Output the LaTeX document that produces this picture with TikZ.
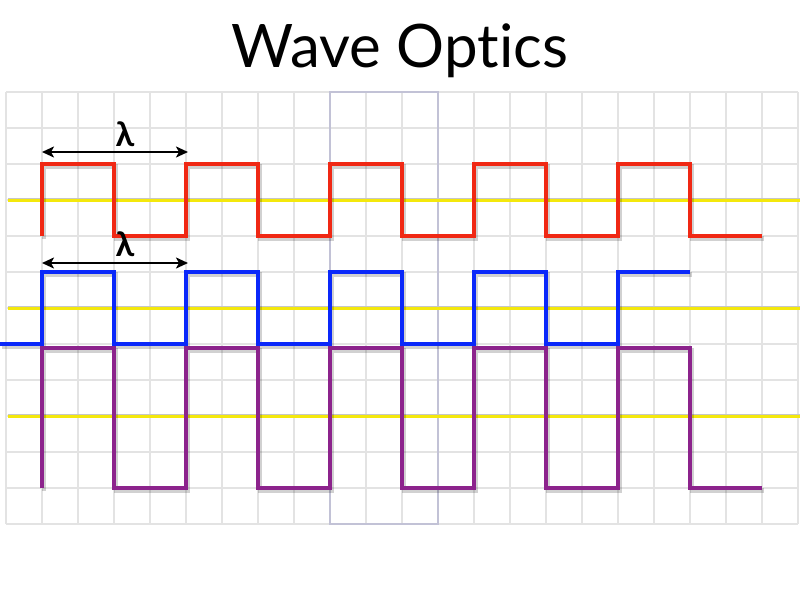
\documentclass[tikz,border=0pt]{standalone}
\usepackage{fontspec}
\setmainfont[Ligatures={NoCommon,NoRequired,NoContextual}]{Lato}
\usetikzlibrary{arrows.meta}
\tikzset{
  rejilla/.style={draw=gray!22,line width=1.2pt},
  eje/.style={draw=yellow!95!black,line width=3pt,preaction={draw=gray!45,line width=4.6pt}},
  sombra/.style={preaction={draw=black,opacity=0.18,line width=4.5pt,transform canvas={shift={(2pt,-2.5pt)}}}},
  onda/.style={line width=3.5pt,line join=miter,sombra},
  flecha/.style={<->,line width=2pt}
}
\definecolor{rojo}{RGB}{240,40,20}
\definecolor{azul}{RGB}{10,40,250}
\definecolor{morado}{RGB}{140,35,140}
\begin{document}
\begin{tikzpicture}[x=1pt,y=-1pt,>={Stealth[length=12pt,width=11pt,inset=3pt]}]
    \useasboundingbox (0,0) rectangle (800,600);

    % Rejilla de fondo
    \foreach \x in {6,42,...,798} \draw[rejilla] (\x,92) -- (\x,524);
    \foreach \y in {92,128,...,524} \draw[rejilla] (6,\y) -- (798,\y);
    \draw[draw=blue!20!gray!40,line width=1.2pt] (330,92) rectangle (438,524);

    % Titulo
    \node[anchor=base,font=\fontsize{60}{66}\selectfont] (titulo) at (400,67) {Wave Optics};

    % Ejes amarillos
    \draw[eje] (8,200) -- (800,200);
    \draw[eje] (8,308) -- (800,308);
    \draw[eje] (8,416) -- (800,416);

    % Onda roja
    \draw[onda,rojo] (42,236) \foreach \x in {42,186,330,474,618}
      {-- (\x,236) -- (\x,164) -- (\x+72,164) -- (\x+72,236)} -- (762,236);

    % Onda azul
    \draw[onda,azul] (0,344) \foreach \x in {42,186,330,474}
      {-- (\x,344) -- (\x,272) -- (\x+72,272) -- (\x+72,344)}
      -- (618,344) -- (618,272) -- (690,272);

    % Onda morada (suma)
    \draw[onda,morado] (42,488) \foreach \x in {42,186,330,474,618}
      {-- (\x,488) -- (\x,348) -- (\x+72,348) -- (\x+72,488)} -- (762,488);

    % Longitudes de onda
    \coordinate (l1a) at (42,152);
    \coordinate (l1b) at (188,152);
    \coordinate (l2a) at (42,263);
    \coordinate (l2b) at (188,263);
    \draw[flecha] (l1a) -- (l1b);
    \draw[flecha] (l2a) -- (l2b);
    \node[font=\fontsize{34}{36}\selectfont\bfseries] (lam1) at (125,134) {λ};
    \node[font=\fontsize{34}{36}\selectfont\bfseries] (lam2) at (125,244) {λ};

\end{tikzpicture}
\end{document}
